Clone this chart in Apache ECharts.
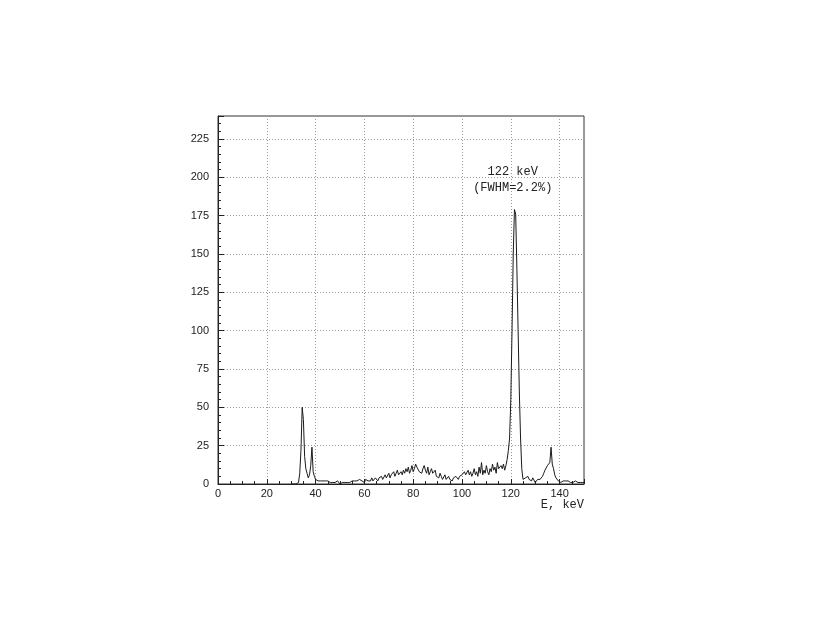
<!DOCTYPE html>
<html>
<head>
<meta charset="utf-8">
<script src="https://cdn.jsdelivr.net/npm/echarts@6/dist/echarts.min.js"></script>
<style>
html,body{margin:0;padding:0;background:#fff;}
#chart{width:822px;height:617px;}
</style>
</head>
<body>
<div id="chart"></div>
<script>
// Energy bins: start (keV) and width (keV)
var binStart = 30;
var binWidth = 0.5;
// Counts per bin (bins from 30.0 keV to 150.0 keV)
var counts = [
  0,0,0,0,0,0,
  1,7,22,50,42,18,10,7,4,6,12,24,8,5,
  3,4,2,3,2,1,2,1,2,1,2,1,1,2,1,2,1,1,2,1,
  0,1,1,0,1,1,1,2,1,2,2,3,2,3,2,1,3,2,2,3,
  1,3,2,2,3,2,4,2,3,4,3,2,4,3,5,3,4,6,4,5,
  7,4,6,5,8,5,7,9,6,5,8,6,9,7,10,8,11,7,9,12,
  8,10,13,11,12,8,9,7,10,12,9,7,11,6,8,10,7,7,9,5,
  6,4,7,5,3,4,6,3,4,5,3,4,2,4,3,5,4,3,5,4,
  6,5,8,6,5,9,6,8,5,7,10,6,8,5,11,7,14,6,9,7,
  12,8,6,10,8,13,9,11,7,14,10,9,12,10,13,9,12,16,22,30,
  55,100,150,179,176,140,100,60,30,10,3,2,4,3,5,3,4,2,4,3,
  1,2,3,2,3,4,5,7,9,10,12,11,14,24,13,10,6,4,3,2,
  3,1,2,2,1,2,1,2,1,1,2,1,1,2,1,1,2,1,2,1,1
];
var xTicks = [0, 20, 40, 60, 80, 100, 120, 140];
var yTicks = [0, 25, 50, 75, 100, 125, 150, 175, 200, 225];
var peakLabel = ['122 keV', '(FWHM=2.2%)'];
var peakLabelPos = [120.8, 198.2];
var xName = 'E, keV';

var data = counts.map(function (c, i) { return [binStart + i * binWidth, c]; });

var chart = echarts.init(document.getElementById('chart'), null, {renderer: 'canvas'});
var option = {
  backgroundColor: '#ffffff',
  animation: false,
  grid: {left: 218, right: 238, top: 116, bottom: 133, show: true, borderColor: '#333', borderWidth: 1},
  xAxis: {
    type: 'value', min: 0, max: 150, interval: 20,
    axisLine: {show: true, onZero: false, lineStyle: {color: '#222', width: 1}},
    axisTick: {show: true, inside: true, length: 5, lineStyle: {color: '#222'}},
    minorTick: {show: true, splitNumber: 4, length: 3, lineStyle: {color: '#222'}},
    axisLabel: {
      color: '#222', fontSize: 11, fontFamily: 'Liberation Sans, Arial, sans-serif', margin: 4,
      formatter: function (v) { return xTicks.indexOf(v) >= 0 ? String(v) : ''; }
    },
    splitLine: {show: true, lineStyle: {color: '#999', type: [1, 2], width: 1}}
  },
  yAxis: {
    type: 'value', min: 0, max: 240, interval: 25,
    axisLine: {show: true, onZero: false, lineStyle: {color: '#222', width: 1}},
    axisTick: {show: true, inside: true, length: 6, lineStyle: {color: '#222'}},
    minorTick: {show: true, splitNumber: 5, length: 3, lineStyle: {color: '#222'}},
    axisLabel: {
      color: '#222', fontSize: 11, fontFamily: 'Liberation Sans, Arial, sans-serif', margin: 9,
      formatter: function (v) { return yTicks.indexOf(v) >= 0 ? String(v) : ''; }
    },
    splitLine: {show: true, lineStyle: {color: '#999', type: [1, 2], width: 1}}
  },
  series: [{
    type: 'line',
    data: data,
    showSymbol: false,
    symbol: 'none',
    lineStyle: {color: '#1a1a1a', width: 1},
    z: 5
  }]
};
chart.setOption(option);

var p = chart.convertToPixel({gridIndex: 0}, peakLabelPos);
var axisEnd = chart.convertToPixel({gridIndex: 0}, [150, 0]);
chart.setOption({
  graphic: [
    {type: 'text', x: p[0], y: p[1], style: {text: peakLabel[0] + '\n' + peakLabel[1], fill: '#222', font: '12px "Liberation Mono", "DejaVu Sans Mono", monospace', align: 'center', verticalAlign: 'middle', lineHeight: 16}},
    {type: 'text', x: axisEnd[0], y: axisEnd[1] + 21, style: {text: xName, fill: '#222', font: '12px "Liberation Mono", "DejaVu Sans Mono", monospace', align: 'right', verticalAlign: 'middle'}}
  ]
});
</script>
</body>
</html>
